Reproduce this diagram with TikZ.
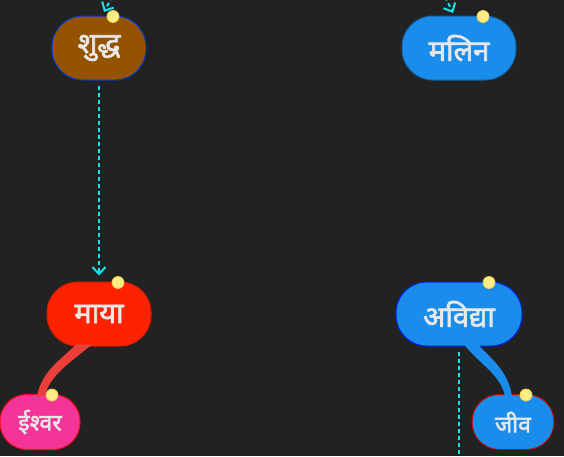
\documentclass[tikz,border=0pt]{standalone}
\usepackage{fontspec}
\newfontfamily\deva[Script=Devanagari,FakeBold=2.2]{Noto Sans}
\usetikzlibrary{positioning}
\usetikzlibrary{calc}
\usetikzlibrary{arrows.meta}
\definecolor{bg}{HTML}{222222}
\definecolor{brownnode}{HTML}{955200}
\definecolor{bluenode}{HTML}{1A8CEB}
\definecolor{rednode}{HTML}{FF2200}
\definecolor{pinknode}{HTML}{F5349A}
\definecolor{redbranch}{HTML}{EA3F3A}
\definecolor{labelgrey}{HTML}{E8E8E8}
\definecolor{linkcyan}{HTML}{12E4F0}
\definecolor{dotyellow}{HTML}{FFEC85}
\definecolor{dotring}{HTML}{F2CF55}
\tikzset{
  pill/.style={rounded corners=31pt, minimum height=64pt, inner sep=0pt,
    text=labelgrey, line width=1pt,
    font=\deva\fontsize{29}{34}\selectfont},
  smallpill/.style={pill, rounded corners=27pt, minimum height=55pt,
    font=\deva\fontsize{23}{28}\selectfont},
  link/.style={linkcyan, line width=2pt, dash pattern=on 4pt off 3pt,
    -{Straight Barb[length=7pt,width=13pt,line width=2pt]}},
  dot/.style={circle, inner sep=0pt, minimum size=12pt, fill=dotyellow,
    draw=dotring, line width=0.8pt}
}
\begin{document}
\begin{tikzpicture}[x=1pt,y=-1pt]
  \fill[bg] (0,0) rectangle (564,456);
  \useasboundingbox (0,0) rectangle (564,456);
  % nodes
  \node[pill, fill=brownnode, draw=blue!70!cyan!80!black, minimum width=94pt] (shuddha) at (99,48) {शुद्ध};
  \node[pill, fill=bluenode, draw=bluenode!70!black, minimum width=114pt] (malin) at (459,48) {मलिन};
  \node[pill, fill=rednode, draw=rednode!85!black, minimum width=104pt] (maya) at (99,314) {माया};
  \node[pill, fill=bluenode, draw=blue!80!bluenode, minimum width=126pt] (avidya) at (459,314) {अविद्या};
  \node[smallpill, fill=pinknode, draw=red!80!pinknode, minimum width=80pt] (ishvar) at (40,422) {ईश्वर};
  \node[smallpill, fill=bluenode, draw=red!75!black, minimum width=82pt] (jiva) at (513,422) {जीव};
  % branches
  \fill[redbranch]
    ($(maya.south)+(-23,-2)$) .. controls +(-16,16) and +(5,-25) .. ($(ishvar.north)+(-3,2)$)
    -- ($(ishvar.north)+(5,2)$) .. controls +(4,-20) and +(-22,18) .. ($(maya.south)+(-7,-2)$) -- cycle;
  \fill[bluenode]
    ($(avidya.south)+(5,-2)$) .. controls +(16,20) and +(-5,-22) .. ($(jiva.north)+(-8,2)$)
    -- ($(jiva.north)+(-1,2)$) .. controls +(-4,-25) and +(14,15) .. ($(avidya.south)+(19,-2)$) -- cycle;
  % links
  \coordinate (fromshuddha) at (122,-22);
  \coordinate (frommalin) at (436,-22);
  \coordinate (belowavidya) at (459,470);
  \draw[link] (fromshuddha) -- (104,12);
  \draw[link] (frommalin) -- (453,13);
  \draw[link, shorten <=5pt, shorten >=6pt] (shuddha.south) -- (maya.north);
  \draw[link, -, shorten <=5pt] (avidya.south) -- (belowavidya);
  % markers
  \foreach \n/\dx in {shuddha/14, malin/24, maya/19, avidya/30, ishvar/12, jiva/13}
    \node[dot] at ($(\n.north)+(\dx,1)$) {};
\end{tikzpicture}
\end{document}
